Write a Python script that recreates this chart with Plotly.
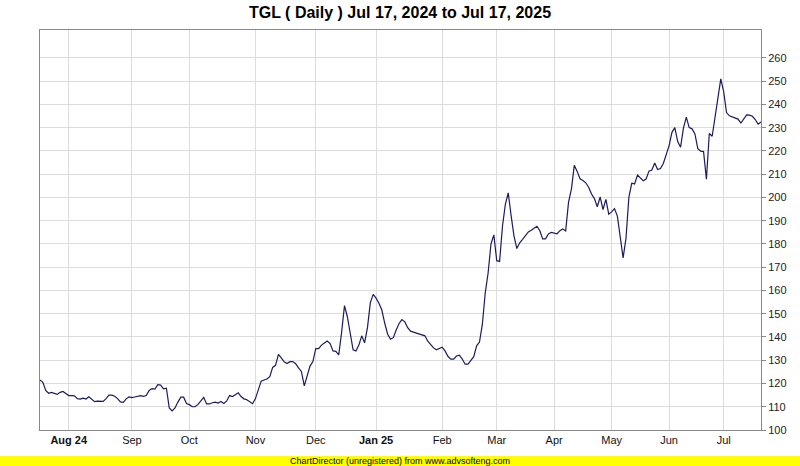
import plotly.graph_objects as go

# Daily closing values (trading-day index 0 = Jul 17, 2024)
close_values = [
    121.5, 120.5, 117.0, 115.8, 116.2, 115.9, 115.3, 116.2, 116.6, 115.7,
    114.8, 114.8, 114.7, 113.5, 113.3, 113.7, 113.3, 114.3, 113.1, 112.2,
    112.4, 112.2, 112.3, 113.5, 115.0, 115.0, 114.5, 113.5, 112.1, 111.9,
    113.4, 114.2, 113.9, 114.2, 114.5, 114.8, 114.5, 114.8, 117.0, 117.8,
    117.6, 119.5, 119.3, 117.7, 118.0, 109.5, 108.2, 109.5, 112.0, 114.1,
    114.1, 111.4, 110.9, 110.0, 110.0, 111.0, 112.5, 114.0, 111.2, 111.2,
    111.7, 112.0, 111.6, 112.3, 111.4, 112.5, 114.8, 114.4, 115.2, 116.0,
    114.4, 113.4, 113.0, 112.2, 111.3, 113.5, 116.8, 121.0, 121.5, 121.9,
    122.9, 126.9, 127.8, 132.5, 131.0, 129.3, 128.6, 129.4, 129.4, 128.5,
    126.7, 125.2, 119.0, 122.9, 127.5, 129.4, 135.0, 135.0, 136.5, 137.4,
    138.3, 137.2, 134.0, 133.8, 132.3, 142.0, 153.5, 148.7, 141.0, 134.5,
    134.0, 136.5, 140.5, 137.5, 144.0, 154.8, 158.3, 156.7, 154.5, 151.6,
    146.0, 141.3, 139.0, 139.7, 143.0, 145.8, 147.5, 146.5, 144.0, 142.5,
    142.1, 141.7, 141.4, 141.0, 140.5, 138.2, 136.5, 135.3, 134.5, 135.0,
    135.6, 134.0, 131.7, 130.5, 130.5, 131.8, 132.2, 130.5, 128.3, 128.3,
    130.1, 131.5, 136.2, 137.8, 145.5, 159.0, 167.5, 180.0, 183.9, 172.8,
    172.5, 187.6, 197.0, 202.0, 192.3, 183.5, 178.0, 180.5, 182.0, 183.8,
    185.2, 185.9, 186.8, 187.6, 185.7, 182.2, 182.2, 184.3, 185.0, 184.7,
    184.4, 185.7, 186.4, 185.6, 198.0, 203.6, 213.8, 211.2, 208.0, 207.3,
    206.3, 204.4, 201.5, 199.5, 196.0, 200.2, 194.8, 199.2, 192.8, 193.8,
    195.2, 192.0, 182.5, 174.0, 182.4, 200.0, 206.1, 205.8, 209.6, 208.6,
    207.2, 207.9, 211.3, 211.8, 214.8, 212.0, 212.4, 214.6, 218.3, 222.3,
    228.0, 230.0, 224.0, 221.6, 229.8, 234.5, 230.0, 229.5, 227.3, 221.0,
    219.9, 219.7, 207.8, 227.5, 226.3, 234.5, 244.5, 251.0, 245.5, 236.5,
    235.1, 234.6, 234.1, 233.7, 232.0, 234.0, 235.5, 235.4, 234.9, 233.5,
    231.5, 232.5,
]

# Month tick positions (trading-day index) and labels
month_tick_index = [10, 32, 52, 75, 96, 117, 140, 159, 179, 199, 219, 238]
month_tick_labels = ["<b>Aug 24</b>", "Sep", "Oct", "Nov", "Dec", "<b>Jan 25</b>",
                     "Feb", "Mar", "Apr", "May", "Jun", "Jul"]

y_ticks = list(range(100, 261, 10))

day_index = list(range(len(close_values)))

FONT = "Liberation Sans, Arial, sans-serif"

fig = go.Figure()
fig.add_trace(go.Scatter(
    x=day_index, y=close_values, mode="lines",
    line=dict(color="#1c1c5c", width=1.2),
    hoverinfo="skip", showlegend=False,
))

fig.update_layout(
    width=800, height=466,
    margin=dict(l=40, r=39, t=30, b=36, autoexpand=False),
    paper_bgcolor="white", plot_bgcolor="white",
    font=dict(family=FONT, size=11, color="#222222"),
    title=dict(text="<b>TGL ( Daily ) Jul 17, 2024 to Jul 17, 2025</b>",
               x=0.5, xanchor="center", y=1 - 12.5 / 466, yanchor="middle",
               font=dict(family=FONT, size=16, color="#000000")),
    xaxis=dict(
        range=[0, len(close_values) - 1],
        tickmode="array", tickvals=month_tick_index, ticktext=month_tick_labels,
        showgrid=True, gridcolor="#dcdcdc", gridwidth=1,
        showline=True, linecolor="#888888", linewidth=1, mirror=True,
        ticks="", zeroline=False, automargin=False,
        tickfont=dict(family=FONT, size=11, color="#111111"),
    ),
    yaxis=dict(
        range=[100, 272], side="right",
        tickmode="array", tickvals=y_ticks,
        showgrid=True, gridcolor="#dcdcdc", gridwidth=1,
        showline=True, linecolor="#888888", linewidth=1, mirror=True,
        ticks="outside", ticklen=4, tickcolor="#888888",
        zeroline=False, automargin=False,
        tickfont=dict(family=FONT, size=11, color="#222222"),
    ),
)

# Yellow watermark banner at bottom
plot_h = 466 - 30 - 36
fig.add_shape(type="rect", xref="paper", yref="paper",
              x0=-40 / 721, x1=(800 - 40) / 721,
              y0=-36 / plot_h, y1=-26 / plot_h,
              fillcolor="#ffff00", line=dict(width=0), layer="below")
fig.add_annotation(xref="paper", yref="paper", x=0.5 - 0.5 / 721, y=-31 / plot_h,
                   text="ChartDirector (unregistered) from www.advsofteng.com",
                   showarrow=False, xanchor="center", yanchor="middle",
                   font=dict(family=FONT, size=9, color="#000000"))

fig.write_html("out.html",
               config={"displayModeBar": False},
               post_script="document.body.style.margin='0';document.body.style.overflow='hidden';")
